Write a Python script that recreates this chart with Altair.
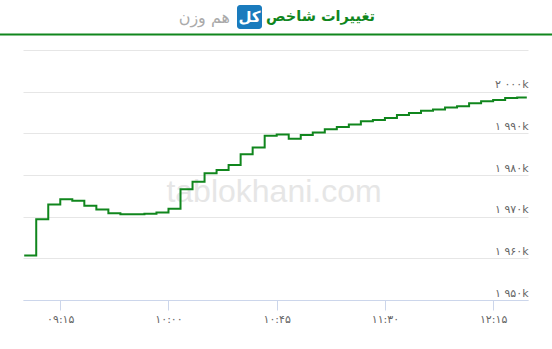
import altair as alt
import pandas as pd

# ---- data ----
times = ["09:00", "09:05", "09:10", "09:15", "09:20", "09:25", "09:30", "09:35",
         "09:40", "09:45", "09:50", "09:55", "10:00", "10:05", "10:10", "10:15",
         "10:20", "10:25", "10:30", "10:35", "10:40", "10:45", "10:50", "10:55",
         "11:00", "11:05", "11:10", "11:15", "11:20", "11:25", "11:30", "11:35",
         "11:40", "11:45", "11:50", "11:55", "12:00", "12:05", "12:10", "12:15",
         "12:20", "12:25", "12:29"]
values_k = [1960.7, 1969.4, 1972.9, 1974.2, 1973.8, 1972.6, 1971.7, 1970.8,
            1970.6, 1970.6, 1970.7, 1971.0, 1971.9, 1976.6, 1978.4, 1980.4,
            1981.2, 1982.4, 1985.0, 1986.6, 1989.4, 1989.7, 1988.7, 1989.6,
            1990.2, 1991.0, 1991.5, 1992.1, 1992.9, 1993.2, 1993.7, 1994.4,
            1994.9, 1995.4, 1995.7, 1996.2, 1996.5, 1997.2, 1997.7, 1998.0,
            1998.5, 1998.6, 1998.6]

x_tick_times = ["09:15", "10:00", "10:45", "11:30", "12:15"]
x_tick_labels = ["۰۹:۱۵", "۱۰:۰۰", "۱۰:۴۵", "۱۱:۳۰", "۱۲:۱۵"]
y_tick_values = [1950, 1960, 1970, 1980, 1990, 2000, 2010]
y_tick_labels = ["۱ ۹۵۰k", "۱ ۹۶۰k", "۱ ۹۷۰k", "۱ ۹۸۰k", "۱ ۹۹۰k", "۲ ۰۰۰k", ""]

title_main = "تغییرات شاخص"
title_badge = "کل"
title_sub = "هم وزن"
watermark = "tablokhani.com"


def to_min(s):
    h, m = s.split(":")
    return (int(h) - 9) * 60 + int(m)


df = pd.DataFrame({"t": [to_min(s) for s in times], "v": values_k})
x_ticks = [to_min(s) for s in x_tick_times]

x_expr = " : ".join(f"datum.value == {v} ? '{l}'" for v, l in zip(x_ticks, x_tick_labels)) + " : ''"
y_expr = " : ".join(f"datum.value == {v} ? '{l}'" for v, l in zip(y_tick_values, y_tick_labels)) + " : ''"

GREEN = "#10861d"
W, H = 505, 250

x_enc = alt.X("t:Q",
              scale=alt.Scale(domain=[-0.5, 209.5], nice=False, zero=False),
              axis=alt.Axis(values=x_ticks, labelExpr=x_expr, title=None, grid=False,
                            domainColor="#ccd6eb", tickColor="#ccd6eb", tickSize=10,
                            labelColor="#666666", labelFontSize=11, labelPadding=3,
                            labelFont="DejaVu Sans"))
y_enc = alt.Y("v:Q",
              scale=alt.Scale(domain=[1950, 2010], nice=False, zero=False),
              axis=alt.Axis(orient="right", values=y_tick_values, labelExpr=y_expr,
                            title=None, grid=True, gridColor="#e6e6e6", domain=False,
                            ticks=False, labelAlign="right", labelBaseline="alphabetic",
                            labelPadding=0, labelOffset=-4, labelColor="#666666",
                            labelFontSize=11, labelFont="DejaVu Sans"))

base = alt.Chart(df)

wm = alt.Chart(pd.DataFrame({"s": [watermark]})).mark_text(
    font="Liberation Sans", fontSize=32, color="#e6e6e6", align="center", baseline="middle"
).encode(x=alt.value(251), y=alt.value(142), text="s:N")

line = base.mark_line(interpolate="step-after", color=GREEN, strokeWidth=2).encode(
    x=x_enc, y=y_enc)

t1 = alt.Chart(pd.DataFrame({"s": [title_main]})).mark_text(
    font="DejaVu Sans", fontSize=14.5, fontWeight="bold", color=GREEN,
    align="left", baseline="middle"
).encode(x=alt.value(243), y=alt.value(-33), text="s:N")

badge = alt.Chart(pd.DataFrame({"s": [title_badge]})).mark_rect(
    color="#1a7bbd", cornerRadius=3
).encode(x=alt.value(214), x2=alt.value(239), y=alt.value(-45), y2=alt.value(-21))

t2 = alt.Chart(pd.DataFrame({"s": [title_badge]})).mark_text(
    font="DejaVu Sans", fontSize=15, fontWeight="bold", color="white",
    align="center", baseline="middle"
).encode(x=alt.value(226.5), y=alt.value(-33), text="s:N")

t3 = alt.Chart(pd.DataFrame({"s": [title_sub]})).mark_text(
    font="DejaVu Sans", fontSize=16, color="#aaaaaa",
    align="right", baseline="middle"
).encode(x=alt.value(207), y=alt.value(-32), text="s:N")

sep = alt.Chart(pd.DataFrame({"s": [1]})).mark_rule(color=GREEN, strokeWidth=2).encode(
    x=alt.value(-23), x2=alt.value(529), y=alt.value(-15.5))

chart = alt.layer(wm, line, t1, badge, t2, t3, sep).properties(
    width=W, height=H,
    autosize=alt.AutoSizeParams(type="none"),
    padding={"left": 23, "top": 50, "right": 24, "bottom": 49},
).configure(background="white", view=alt.ViewConfig(stroke=None))

chart.save("out.html", embed_options={"renderer": "svg", "actions": False})
